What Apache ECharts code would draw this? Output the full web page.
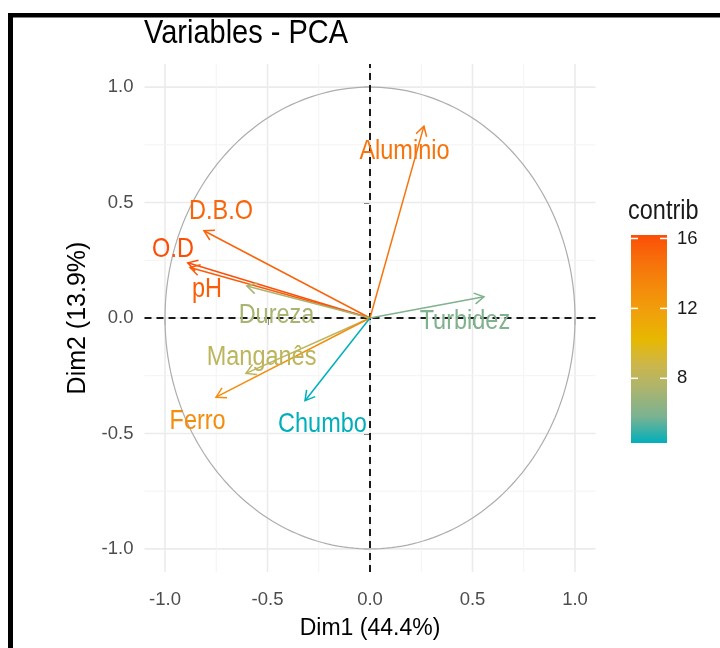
<!DOCTYPE html>
<html>
<head>
<meta charset="utf-8">
<script src="https://cdn.jsdelivr.net/npm/echarts@6/dist/echarts.min.js"></script>
<style>html,body{margin:0;padding:0;background:#fff}#chart{width:720px;height:648px}</style>
</head>
<body>
<div id="chart"></div>
<script>
// ---- data ----
const variables = ['Aluminio', 'Turbidez', 'D.B.O', 'O.D', 'pH', 'Dureza', 'Manganês', 'Ferro', 'Chumbo'];
const dim1 = [0.263, 0.556, -0.810, -0.889, -0.878, -0.601, -0.605, -0.751, -0.317];
const dim2 = [0.831, 0.092, 0.378, 0.239, 0.219, 0.139, -0.240, -0.343, -0.358];
const contrib = [14.5, 6.0, 15.2, 16.2, 15.6, 7.3, 8.1, 13.0, 4.3];
// label anchor positions (data units, as placed by the text repel)
const labelX = [0.168, 0.463, -0.727, -0.961, -0.795, -0.456, -0.529, -0.841, -0.232];
const labelY = [0.732, -0.004, 0.472, 0.309, 0.134, 0.022, -0.160, -0.437, -0.450];
const majorBreaks = [-1, -0.5, 0, 0.5, 1];
const minorBreaks = [-0.75, -0.25, 0.25, 0.75];
const legendTicks = [8, 12, 16];
const gradientCols = ['#00AFBB', '#79B292', '#A8B471', '#CCB64B', '#E7B800', '#F0A10B', '#F48A0B', '#F6700B', '#FC4E07'];

const FONT = '"Liberation Sans", Arial, sans-serif';
const SZ = { title: 29, tick: 18.5, axisTitle: 23, label: 23.5, legTitle: 23.5, legLabel: 18.5 };

const cMin = Math.min.apply(null, contrib);
const cMax = Math.max.apply(null, contrib);
const XR = 1.1, YR = 1.1;

const arrowData = variables.map(function (v, i) { return [dim1[i], dim2[i], contrib[i], v]; });
const labelData = variables.map(function (v, i) { return [labelX[i], labelY[i], contrib[i], v]; });

const gridLineData = [];
majorBreaks.forEach(function (b) { gridLineData.push([b, 'v', 1]); gridLineData.push([b, 'h', 1]); });
minorBreaks.forEach(function (b) { gridLineData.push([b, 'v', 0]); gridLineData.push([b, 'h', 0]); });

const chart = echarts.init(document.getElementById('chart'), null, { renderer: 'canvas' });

const option = {
  animation: false,
  backgroundColor: '#ffffff',
  grid: [
    { left: 144.5, right: 124.5, top: 64, bottom: 76, containLabel: false },
    { left: 631, top: 235, width: 36, height: 208, containLabel: false }
  ],
  xAxis: [
    {
      gridIndex: 0, type: 'value', min: -XR, max: XR,
      name: 'Dim1 (44.4%)', nameLocation: 'middle', nameGap: 45,
      nameTextStyle: { fontFamily: FONT, fontSize: SZ.axisTitle, color: '#000' },
      axisLine: { show: false },
      axisTick: { show: true, customValues: majorBreaks, length: 7, lineStyle: { color: '#333', width: 1.5 } },
      axisLabel: { show: true, customValues: majorBreaks, margin: 18, formatter: function (v) { return v.toFixed(1); },
        fontFamily: FONT, fontSize: SZ.tick, color: '#4D4D4D' },
      splitLine: { show: false }
    },
    { gridIndex: 1, type: 'value', min: 0, max: 1, show: false }
  ],
  yAxis: [
    {
      gridIndex: 0, type: 'value', min: -YR, max: YR,
      name: 'Dim2 (13.9%)', nameLocation: 'middle', nameGap: 42, nameRotate: 90,
      nameTextStyle: { fontFamily: FONT, fontSize: 25, color: '#000' },
      axisLine: { show: false },
      axisTick: { show: true, customValues: majorBreaks, length: 6, lineStyle: { color: '#333', width: 1.5 } },
      axisLabel: { show: true, customValues: majorBreaks, margin: 11, formatter: function (v) { return v.toFixed(1); },
        fontFamily: FONT, fontSize: SZ.tick, color: '#4D4D4D' },
      splitLine: { show: false }
    },
    {
      gridIndex: 1, type: 'value', min: cMin, max: cMax, position: 'right',
      axisLine: { show: false }, axisTick: { show: false }, splitLine: { show: false },
      axisLabel: { show: true, customValues: legendTicks, margin: 10, fontFamily: FONT, fontSize: SZ.legLabel, color: '#1A1A1A' }
    }
  ],
  visualMap: {
    type: 'continuous', show: false, min: cMin, max: cMax, dimension: 2,
    seriesIndex: [3, 4], inRange: { color: gradientCols }
  },
  graphic: [
    { type: 'rect', shape: { x: 8, y: 13, width: 712, height: 4.5 }, style: { fill: '#000' }, z: 100 },
    { type: 'rect', shape: { x: 8, y: 13, width: 5, height: 635 }, style: { fill: '#000' }, z: 100 },
    { type: 'text', x: 144, y: 34, scaleY: 1.12, style: { text: 'Variables - PCA', fontFamily: FONT, fontSize: SZ.title,
      fill: '#000', verticalAlign: 'middle', align: 'left' } },
    { type: 'text', x: 628, y: 212, scaleY: 1.15, style: { text: 'contrib', fontFamily: FONT, fontSize: SZ.legTitle,
      fill: '#1A1A1A', verticalAlign: 'middle', align: 'left' } }
  ],
  series: [
    // 0: grid lines
    {
      type: 'custom', xAxisIndex: 0, yAxisIndex: 0, z: 1, silent: true, clip: true,
      data: gridLineData,
      renderItem: function (params, api) {
        const b = api.value(0); const dir = gridLineData[params.dataIndex][1]; const major = api.value(2) === 1;
        let a, c;
        if (dir === 'v') { a = api.coord([b, -YR]); c = api.coord([b, YR]); }
        else { a = api.coord([-XR, b]); c = api.coord([XR, b]); }
        return { type: 'line', shape: { x1: a[0], y1: a[1], x2: c[0], y2: c[1] },
          style: { stroke: major ? '#EBEBEB' : '#F3F3F3', lineWidth: major ? 1.6 : 1 } };
      }
    },
    // 1: correlation circle
    {
      type: 'custom', xAxisIndex: 0, yAxisIndex: 0, z: 2, silent: true,
      data: [[0, 0]],
      renderItem: function (params, api) {
        const pts = [];
        for (let k = 0; k <= 240; k++) { const t = 2 * Math.PI * k / 240; pts.push(api.coord([Math.cos(t), Math.sin(t)])); }
        return { type: 'polyline', shape: { points: pts }, style: { stroke: '#ADADAD', lineWidth: 1.2, fill: null } };
      }
    },
    // 2: dashed reference lines
    {
      type: 'custom', xAxisIndex: 0, yAxisIndex: 0, z: 3, silent: true,
      data: [[0, 0]],
      renderItem: function (params, api) {
        const a = api.coord([0, -YR]), b = api.coord([0, YR]), c = api.coord([-XR, 0]), d = api.coord([XR, 0]);
        const st = { stroke: '#1A1A1A', lineWidth: 2, lineDash: [7, 5] };
        return { type: 'group', children: [
          { type: 'line', shape: { x1: a[0], y1: a[1], x2: b[0], y2: b[1] }, style: st },
          { type: 'line', shape: { x1: c[0], y1: c[1], x2: d[0], y2: d[1] }, style: st }
        ] };
      }
    },
    // 3: arrows
    {
      type: 'custom', xAxisIndex: 0, yAxisIndex: 0, z: 4, silent: true,
      encode: { x: 0, y: 1 },
      data: arrowData,
      renderItem: function (params, api) {
        const p0 = api.coord([0, 0]);
        const p1 = api.coord([api.value(0), api.value(1)]);
        const color = api.visual('color');
        const ang = Math.atan2(p1[1] - p0[1], p1[0] - p0[0]);
        const L = 11, a = Math.PI / 6;
        const h1 = [p1[0] - L * Math.cos(ang - a), p1[1] - L * Math.sin(ang - a)];
        const h2 = [p1[0] - L * Math.cos(ang + a), p1[1] - L * Math.sin(ang + a)];
        return { type: 'group', children: [
          { type: 'line', shape: { x1: p0[0], y1: p0[1], x2: p1[0], y2: p1[1] }, style: { stroke: color, lineWidth: 1.5 } },
          { type: 'polyline', shape: { points: [h1, p1, h2] }, style: { stroke: color, lineWidth: 1.5, fill: null } }
        ] };
      }
    },
    // 4: variable labels
    {
      type: 'custom', xAxisIndex: 0, yAxisIndex: 0, z: 5, silent: true,
      encode: { x: 0, y: 1 },
      data: labelData,
      renderItem: function (params, api) {
        const p = api.coord([api.value(0), api.value(1)]);
        return { type: 'text', x: p[0], y: p[1] + 2.5, scaleY: 1.18, style: {
          text: variables[params.dataIndex], fill: api.visual('color'),
          fontFamily: FONT, fontSize: SZ.label, align: 'center', verticalAlign: 'middle' } };
      }
    },
    // 5: colour bar
    {
      type: 'custom', xAxisIndex: 1, yAxisIndex: 1, z: 5, silent: true,
      data: [[0, cMin]],
      renderItem: function (params, api) {
        const tl = api.coord([0, cMax]), br = api.coord([1, cMin]);
        const n = gradientCols.length;
        const stops = gradientCols.map(function (c, i) { return { offset: 1 - i / (n - 1), color: c }; }).reverse();
        const children = [{ type: 'rect', shape: { x: tl[0], y: tl[1], width: br[0] - tl[0], height: br[1] - tl[1] },
          style: { fill: new echarts.graphic.LinearGradient(0, 0, 0, 1, stops) } }];
        legendTicks.forEach(function (t) {
          const y = api.coord([0, t])[1];
          children.push({ type: 'line', shape: { x1: tl[0], y1: y, x2: tl[0] + 7, y2: y }, style: { stroke: '#fff', lineWidth: 1.5 } });
          children.push({ type: 'line', shape: { x1: br[0] - 7, y1: y, x2: br[0], y2: y }, style: { stroke: '#fff', lineWidth: 1.5 } });
        });
        return { type: 'group', children: children };
      }
    }
  ]
};
chart.setOption(option);
</script>
</body>
</html>
